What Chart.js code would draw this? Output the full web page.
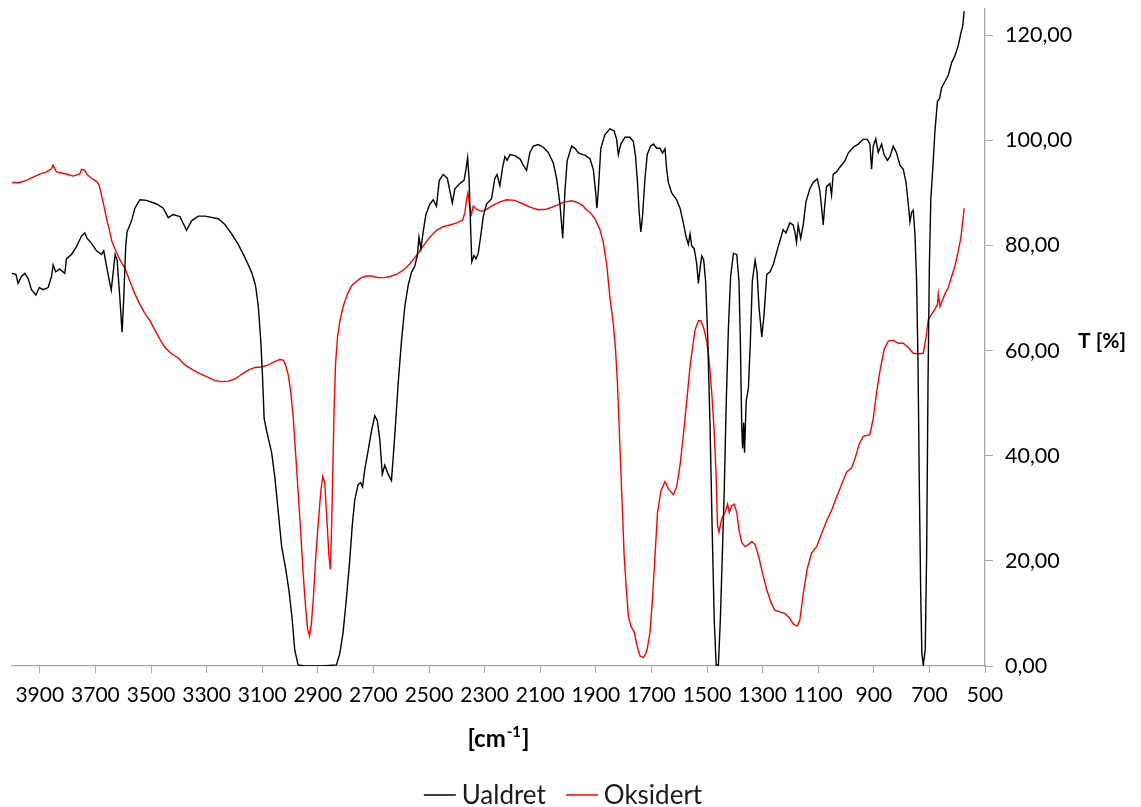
<!DOCTYPE html>
<html>
<head>
<meta charset="utf-8">
<script src="https://cdn.jsdelivr.net/npm/chart.js@4/dist/chart.umd.min.js"></script>
<style>
  html, body { margin: 0; padding: 0; background: #fff; }
  #wrap { width: 1141px; height: 807px; }
</style>
</head>
<body>
<div id="wrap"><canvas id="c" width="1141" height="807"></canvas></div>
<script>
// ---- Data ----
const seriesNames = ["Ualdret", "Oksidert"];
const seriesColors = ["#000000", "#ff0000"];

const ualdretWn = [4001,3986,3978,3966,3954,3942,3930,3914,3902,3888,3870,3858,3852,3843,3828,3810,3804,3786,3768,3750,3738,3730,3714,3696,3678,3670,3658,3643,3636,3629,3622,3612,3604,3598,3591,3586,3570,3558,3540,3516,3480,3456,3438,3420,3396,3372,3354,3330,
3306,3258,3234,3210,3186,3162,3138,3124,3114,3105,3099,3093,3084,3066,3054,3042,3030,3016,3004,2992,2983,2971,2947,2887,2833,2821,2809,2797,2785,2776,2767,2755,2746,2739,2731,2719,2707,2695,2686,2677,2668,2659,2647,2635,
2623,2611,2599,2587,2575,2563,2551,2542,2536,2529,2521,2511,2497,2485,2473,2463,2449,2434,2425,2416,2407,2389,2374,2367,2361,2356,2350,2346,2338,2331,2323,2315,2305,2293,2275,2263,2255,2245,2235,2227,2219,2209,2191,2173,2161,2149,2137,2125,2107,2089,2071,2053,2041,2029,2019,2011,2003,1987,1975,1963,1947,1939,
1921,1909,1901,1896,1891,1882,1867,1849,1834,1825,1819,1810,1795,1777,1765,1757,1750,1744,1738,1732,1723,1715,1703,1693,1681,1669,1660,1651,1645,1639,1627,1609,1597,1585,1576,1567,1561,1555,1546,1537,1531,1525,1519,1512,1505,1498,1489,1481,1474,1467,1459,1452,1445,1438,1431,1423,1415,1405,1393,1385,1380,1375,1372,1368,1365,1359,1351,1344,1337,1327,1320,1313,1303,1295,1285,1273,1261,1246,1237,
1226,1216,1202,1190,1184,1178,1172,1163,1154,1144,1130,1118,1103,1094,1086,1082,1076,1070,1058,1052,1046,1034,1022,1004,992,974,956,938,923,914,908,902,893,884,872,863,851,842,830,818,806,794,784,776,770,764,758,752,746,741,736,731,727,722,715,710,705,700,695,688,680,671,664,656,644,632,620,608,596,586,580,575];
const ualdretT = [74.7,74.5,72.8,74.1,74.7,73.7,71.6,70.6,72.0,71.6,72.0,74.1,76.3,75.0,75.5,74.7,77.5,78.3,79.8,81.8,82.4,81.4,80.4,79.0,78.3,79.0,75.5,71.5,74.9,78.3,77.3,70.0,63.5,70.0,79.8,82.6,84.7,87.1,88.7,88.6,87.9,87.1,85.3,85.9,85.5,82.9,84.7,85.6,
85.6,85.1,84.0,82.2,80.2,77.7,74.9,72.4,68.4,61.8,55.3,47.1,44.7,40.6,35.7,29.2,22.7,18.6,14.5,8.8,3.1,0.2,0.0,0.0,0.2,2.3,6.4,12.9,20.2,26.8,31.6,34.5,34.9,34.1,37.4,41.0,44.7,47.6,46.7,43.1,36.5,38.2,36.5,35.3,
43.9,53.7,61.8,68.4,72.4,74.9,76.1,78.1,81.6,79.4,82.6,85.9,87.9,88.7,87.5,92.4,93.5,92.8,90.4,88.1,90.8,91.8,92.4,94.5,96.7,92.8,83.0,76.9,78.1,77.5,78.5,81.4,85.5,87.9,88.9,92.8,93.5,91.4,94.9,96.9,96.2,97.3,97.1,96.5,95.3,94.3,97.7,98.9,99.2,98.7,97.7,95.7,92.8,87.9,81.4,90.4,96.1,98.9,98.5,97.6,97.3,97.2,
96.5,94.5,90.4,87.1,90.4,98.5,101.1,102.2,101.8,100.2,97.3,99.3,100.6,100.6,99.8,96.9,92.0,86.3,82.6,85.5,92.8,97.3,98.9,99.3,98.5,98.5,97.6,98.4,94.5,92.0,90.0,88.7,87.1,84.3,81.8,80.2,82.2,79.9,79.4,76.5,72.8,75.7,78.0,77.3,73.2,63.5,45.5,25.1,8.8,0.2,0.2,8.8,21.0,33.3,49.6,64.3,74.1,78.5,78.3,73.2,61.8,45.5,41.4,46.3,40.6,50.4,52.9,61.8,73.2,77.2,74.9,68.4,62.6,66.7,74.5,75.0,76.5,79.4,81.0,
83.0,82.4,84.3,83.9,82.6,80.6,83.9,81.4,83.9,88.3,90.8,92.0,92.7,90.4,86.3,83.9,87.9,91.2,91.8,89.6,93.6,94.0,94.9,96.1,97.6,98.7,99.3,100.2,100.2,99.3,94.5,98.9,100.3,97.7,99.3,97.3,96.2,96.9,98.9,97.6,95.3,94.5,92.0,87.9,84.5,86.3,86.7,82.2,73.2,57.7,33.3,12.9,2.3,0.2,3.1,21.0,53.7,76.5,88.7,94.5,101.8,107.5,107.9,110.0,111.2,112.4,114.8,116.1,118.1,120.6,121.8,124.6];

const oksidertWn = [4001,3972,3948,3924,3900,3876,3858,3852,3840,3822,3804,3780,3756,3750,3738,3730,3714,3696,3687,3678,3666,3658,3648,3642,3630,3612,3594,3576,3558,3540,3522,3504,3486,3468,3450,3426,3402,3378,3354,3342,
3318,3294,3270,3246,3222,3198,3174,3150,3126,3102,3078,3055,3037,3024,3016,3006,2997,2988,2980,2971,2961,2953,2944,2937,2930,2923,2915,2908,2899,2889,2882,2875,2867,2860,2855,2851,2846,2841,2836,2829,2821,2809,2793,2779,2761,2743,2725,2707,2683,2659,2641,
2617,2593,2569,2545,2521,2497,2473,2449,2425,2401,2379,2371,2365,2360,2353,2347,2341,2329,2311,2293,2269,2245,2221,2191,2161,2137,2107,2077,2047,2017,1987,1963,1945,1939,
1921,1903,1885,1873,1861,1849,1837,1829,1822,1816,1810,1804,1798,1790,1783,1774,1762,1752,1741,1729,1717,1705,1696,1687,1678,1666,1651,1639,1621,1609,1597,1585,1573,1561,1553,1543,1531,1522,1512,1501,1493,1483,1475,1468,1462,1457,1447,1435,1426,1420,1412,1402,1393,1385,1375,1363,1351,1339,1327,1315,1301,1285,1270,1256,1238,
1220,1204,1190,1175,1166,1154,1139,1124,1106,1088,1070,1052,1034,1016,998,980,968,952,938,914,902,890,878,863,848,830,812,794,776,758,740,722,712,704,692,680,671,668,662,656,644,632,620,608,596,587,580,575];
const oksidertT = [92.0,92.0,92.4,93.0,93.6,94.0,94.6,95.3,94.0,93.8,93.6,93.2,93.6,94.5,94.3,93.5,92.8,92.2,91.6,89.6,86.7,84.7,82.6,81.0,79.4,77.3,75.7,73.2,70.8,68.8,67.1,65.7,63.9,62.2,60.6,59.4,58.6,57.3,56.5,56.1,
55.5,54.9,54.3,54.1,54.2,54.6,55.5,56.3,56.8,56.9,57.3,57.9,58.3,58.2,57.3,55.3,52.0,47.1,40.6,33.3,25.1,17.8,11.3,7.2,5.7,8.0,13.7,20.2,26.8,33.3,36.1,34.9,27.6,21.0,18.4,25.1,37.4,49.6,57.7,62.6,65.5,68.4,70.8,72.3,73.2,73.9,74.2,74.2,73.9,73.9,74.1,
74.5,75.3,76.5,78.1,79.9,81.6,82.9,83.6,83.9,84.3,84.8,86.3,88.7,90.0,87.1,85.9,87.5,86.9,86.5,86.9,87.7,88.3,88.7,88.6,87.9,87.3,86.8,86.9,87.5,88.2,88.5,88.1,87.5,87.1,
86.3,85.1,83.0,80.6,76.5,70.0,65.1,60.2,53.7,45.5,37.4,29.2,21.0,14.5,9.6,7.6,6.5,3.9,1.9,1.6,2.7,6.4,12.9,21.0,29.2,33.3,35.1,33.7,32.6,34.1,38.2,43.9,50.4,56.9,60.2,63.9,65.7,65.7,64.3,61.8,58.6,52.0,45.5,37.4,26.8,25.5,28.0,29.2,30.8,29.2,30.4,30.8,29.2,25.9,23.5,22.7,23.1,23.7,23.1,21.0,17.8,14.5,12.1,10.6,10.3,
10.0,9.2,8.0,7.6,8.8,13.7,18.6,21.5,22.7,25.1,27.6,29.6,32.1,34.5,36.9,37.7,39.4,42.3,43.7,44.0,47.1,52.0,56.1,60.2,61.8,62.0,61.4,61.4,60.6,59.5,59.4,59.5,62.6,65.9,66.9,67.9,68.8,70.8,68.4,69.2,70.8,72.0,74.1,76.1,79.0,81.4,84.7,87.1];

const xTickValues = [3900,3700,3500,3300,3100,2900,2700,2500,2300,2100,1900,1700,1500,1300,1100,900,700,500];
const yTickValues = [0,20,40,60,80,100,120];
const xAxisTitle = "[cm", xAxisTitleSup = "-1", xAxisTitleEnd = "]";
const yAxisTitle = "T [%]";

// ---- Chart ----
const FONT = "Lato, 'Open Sans', sans-serif";
const axisGray = "#a6a6a6";

function toPoints(xs, ys) { return xs.map((x, i) => ({ x: x, y: ys[i] })); }

const titlesPlugin = {
  id: "titles",
  afterDraw(chart) {
    const ctx = chart.ctx;
    ctx.save();
    ctx.fillStyle = "#000";
    ctx.textBaseline = "alphabetic";
    // y axis title (horizontal, right of tick labels)
    ctx.font = "bold 21px " + FONT;
    ctx.textAlign = "left";
    ctx.fillText(yAxisTitle, 1078, 348);
    // x axis title with superscript
    const cx = (chart.chartArea.left + chart.chartArea.right) / 2;
    ctx.font = "bold 24px " + FONT;
    const w1 = ctx.measureText(xAxisTitle).width;
    const w3 = ctx.measureText(xAxisTitleEnd).width;
    ctx.font = "bold 15px " + FONT;
    const w2 = ctx.measureText(xAxisTitleSup).width;
    let x = cx - (w1 + w2 + w3 + 2) / 2;
    const base = 747;
    ctx.font = "bold 24px " + FONT;
    ctx.fillText(xAxisTitle, x, base);
    x += w1 + 1;
    ctx.font = "bold 15px " + FONT;
    ctx.fillText(xAxisTitleSup, x, base - 10);
    x += w2 + 1;
    ctx.font = "bold 24px " + FONT;
    ctx.fillText(xAxisTitleEnd, x, base);

    // legend (line sample + label for each series)
    const ly = 795, lineLen = 32, gapText = 6, gapItem = 20;
    ctx.font = "26px " + FONT;
    ctx.textBaseline = "middle";
    const widths = seriesNames.map(n => ctx.measureText(n).width);
    let total = 0;
    widths.forEach((w, i) => { total += lineLen + gapText + w + (i < widths.length - 1 ? gapItem : 0); });
    let lx = 563 - total / 2;
    seriesNames.forEach((n, i) => {
      ctx.strokeStyle = seriesColors[i];
      ctx.lineWidth = 1.5;
      ctx.beginPath();
      ctx.moveTo(lx, ly);
      ctx.lineTo(lx + lineLen, ly);
      ctx.stroke();
      lx += lineLen + gapText;
      ctx.fillStyle = "#1a1a1a";
      ctx.fillText(n, lx, ly + 1);
      lx += widths[i] + gapItem;
    });
    ctx.restore();
  }
};

new Chart(document.getElementById("c"), {
  type: "line",
  data: {
    datasets: [
      { label: seriesNames[0], data: toPoints(ualdretWn, ualdretT), borderColor: seriesColors[0], backgroundColor: seriesColors[0], borderWidth: 1.4, pointRadius: 0, tension: 0, fill: false },
      { label: seriesNames[1], data: toPoints(oksidertWn, oksidertT), borderColor: seriesColors[1], backgroundColor: seriesColors[1], borderWidth: 1.4, pointRadius: 0, tension: 0, fill: false }
    ]
  },
  options: {
    responsive: false,
    animation: false,
    devicePixelRatio: 1,
    layout: { padding: { left: 12, top: 9, right: 0, bottom: 0 } },
    plugins: {
      tooltip: { enabled: false },
      legend: { display: false }
    },
    scales: {
      x: {
        type: "linear",
        reverse: true,
        min: 500,
        max: 4000,
        afterBuildTicks(scale) { scale.ticks = xTickValues.map(v => ({ value: v })); },
        afterFit(scale) { scale.height = 141; scale.paddingLeft = 0; scale.paddingRight = 0; },
        grid: { display: true, drawOnChartArea: false, drawTicks: true, tickLength: 7, color: axisGray, lineWidth: 1 },
        border: { display: true, color: axisGray, width: 1.3 },
        ticks: { autoSkip: false, maxRotation: 0, color: "#000", font: { family: FONT, size: 21 }, padding: 10, callback: v => String(v) }
      },
      y: {
        type: "linear",
        position: "right",
        min: 0,
        max: 125,
        afterBuildTicks(scale) { scale.ticks = yTickValues.map(v => ({ value: v })); },
        afterFit(scale) { scale.width = 156; scale.paddingTop = 0; scale.paddingBottom = 0; },
        grid: { display: true, drawOnChartArea: false, drawTicks: true, tickLength: 8, color: axisGray, lineWidth: 1 },
        border: { display: true, color: axisGray, width: 1.3 },
        ticks: { color: "#000", font: { family: FONT, size: 21.5 }, padding: 12, callback: v => v.toFixed(2).replace(".", ",") }
      }
    }
  },
  plugins: [titlesPlugin]
});
</script>
</body>
</html>
